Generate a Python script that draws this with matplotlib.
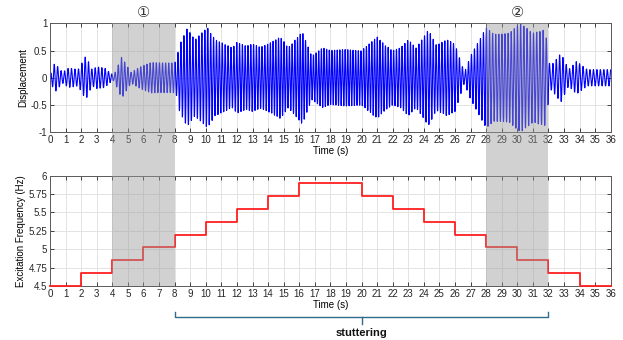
import numpy as np
import matplotlib
matplotlib.use('Agg')
import matplotlib.pyplot as plt
from matplotlib.patches import Rectangle
from matplotlib.lines import Line2D
from matplotlib.transforms import blended_transform_factory

plt.rcParams['font.family'] = ['Liberation Sans', 'DejaVu Sans', 'Noto Sans CJK JP']

# excitation frequency steps (Hz), one value per 2 s segment
step_edges = [0, 2, 4, 6, 8, 10, 12, 14, 16, 20, 22, 24, 26, 28, 30, 32, 34, 36]
step_freq = [4.5, 4.675, 4.85, 5.025, 5.2, 5.375, 5.55, 5.725, 5.9,
             5.725, 5.55, 5.375, 5.2, 5.025, 4.85, 4.675, 4.5]

# displacement envelope
env_t = [0, 0.3, 0.8, 1.2, 1.8, 2.3, 2.7, 3.0, 3.5, 3.9, 4.1, 4.6, 5.2, 5.8, 6.5,
         7.9, 8.1, 8.3, 8.8, 9.3, 10.1, 10.6, 11.2, 11.7, 12.0, 12.6, 13.0, 13.5,
         14.0, 14.8, 15.3, 16.2, 16.8, 17.5, 18.0, 19.0, 20.0, 21.0, 21.5, 22.0,
         22.5, 23.0, 23.5, 24.3, 24.8, 25.5, 26.0, 26.6, 27.0, 28.0, 28.5, 29.5,
         30.2, 31.0, 31.8, 32.1, 32.4, 32.8, 33.3, 33.8, 34.5, 36.0]
env_amp = [0.05, 0.27, 0.1, 0.18, 0.15, 0.4, 0.15, 0.2, 0.18, 0.08, 0.05, 0.38, 0.1,
           0.2, 0.28, 0.27, 0.3, 0.6, 0.9, 0.7, 0.92, 0.7, 0.62, 0.55, 0.65, 0.58,
           0.62, 0.56, 0.62, 0.75, 0.55, 0.85, 0.4, 0.55, 0.5, 0.52, 0.5, 0.75, 0.6,
           0.5, 0.55, 0.7, 0.55, 0.88, 0.6, 0.7, 0.62, 0.1, 0.4, 0.92, 0.8, 0.82,
           1.0, 0.82, 0.88, 0.2, 0.3, 0.45, 0.15, 0.3, 0.15, 0.15]

shade_spans = [(4, 8), (28, 32)]
shade_marks = ['①', '②']

# signal: envelope on the excitation carrier
t = np.arange(0, 36, 0.01)
f_t = np.array(step_freq)[np.clip(np.searchsorted(step_edges, t, side='right') - 1, 0, len(step_freq) - 1)]
phase = 2 * np.pi * np.cumsum(f_t) * 0.01
disp = np.interp(t, env_t, env_amp) * np.sin(phase)

fig = plt.figure(figsize=(6.23, 3.40), dpi=100)
ax1 = fig.add_axes([0.0803, 0.611, 0.900, 0.3206])
ax2 = fig.add_axes([0.0803, 0.1588, 0.900, 0.3244])

ax1.plot(t, disp, color='#0000ff', lw=0.8)
ax1.set_ylim(-1, 1)
ax1.set_yticks([-1, -0.5, 0, 0.5, 1])
ax1.set_yticklabels(['-1', '-0.5', '0', '0.5', '1'])
ax1.set_ylabel('Displacement', fontsize=7, labelpad=2)

ax2.step(step_edges, step_freq + [step_freq[-1]], where='post', color='#ff2020',
         lw=1.3, clip_on=False, zorder=3)
ax2.set_ylim(4.5, 6)
ax2.set_yticks([4.5, 4.75, 5, 5.25, 5.5, 5.75, 6])
ax2.set_yticklabels(['4.5', '4.75', '5', '5.25', '5.5', '5.75', '6'])
ax2.set_ylabel('Excitation Frequency (Hz)', fontsize=7, labelpad=2)

for ax in (ax1, ax2):
    ax.set_xlim(0, 36)
    ax.set_xticks(range(0, 37))
    ax.set_xlabel('Time (s)', fontsize=7, labelpad=1)
    ax.grid(True, color='#e3e3e3', lw=0.7)
    ax.set_axisbelow(True)
    ax.tick_params(direction='in', top=True, right=True, length=3, width=0.6,
                   labelsize=7, colors='#262626', pad=2)
    for s in ax.spines.values():
        s.set_color('#5a5a5a')
        s.set_linewidth(0.7)

# gray bands across both panels
tr = blended_transform_factory(ax1.transData, fig.transFigure)
y_lo, y_hi = 0.1588, 0.611 + 0.3206
for (a, b), mark in zip(shade_spans, shade_marks):
    fig.add_artist(Rectangle((a, y_lo), b - a, y_hi - y_lo, transform=tr,
                             facecolor='#9a9a9a', alpha=0.45, edgecolor='none', zorder=10))
    fig.text((a + b) / 2, 0.962, mark, transform=tr, ha='center', va='center',
             fontsize=10.5, color='#333333')

# stuttering bracket
bc = '#2f6b8a'
y_top, y_bar, y_mid = 0.082, 0.068, 0.048
fig.add_artist(Line2D([8, 8, 32, 32], [y_top, y_bar, y_bar, y_top], transform=tr, color=bc, lw=1.0))
fig.add_artist(Line2D([20, 20], [y_bar, y_mid], transform=tr, color=bc, lw=1.0))
fig.text(20, 0.02, 'stuttering', transform=tr, ha='center', va='center',
         fontsize=8, fontweight='bold', color='#111111')

fig.savefig('out.png', dpi=100)
